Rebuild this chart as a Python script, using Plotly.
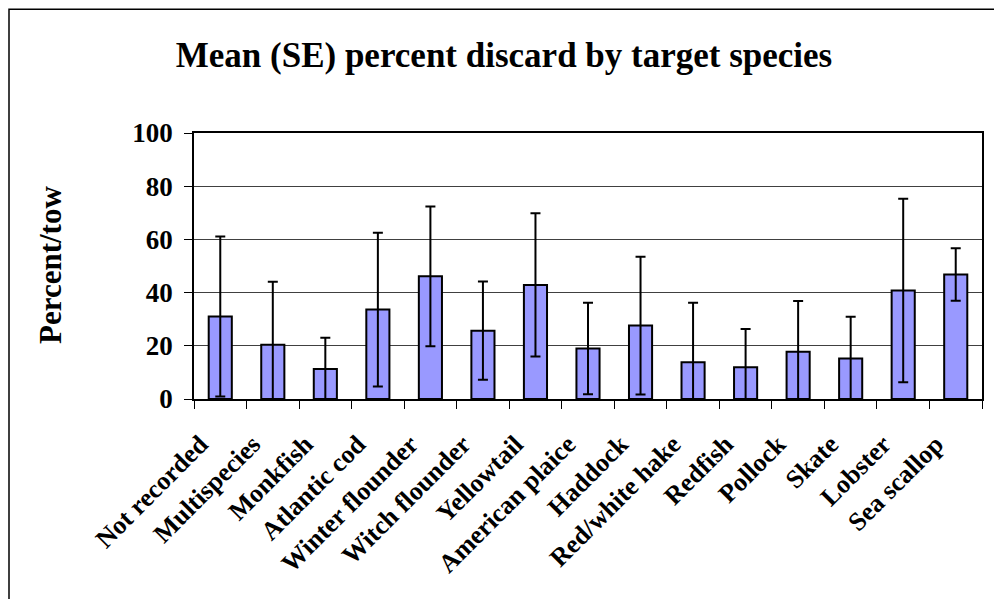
import plotly.graph_objects as go

categories = ["Not recorded", "Multispecies", "Monkfish", "Atlantic cod", "Winter flounder",
              "Witch flounder", "Yellowtail", "American plaice", "Haddock", "Red/white hake",
              "Redfish", "Pollock", "Skate", "Lobster", "Sea scallop"]
mean_discard = [31.0, 20.4, 11.3, 33.6, 46.1, 25.7, 42.9, 19.0, 27.6, 13.8, 11.9, 17.8, 15.2, 40.8, 46.8]
se_discard = [30.1, 23.7, 11.7, 28.9, 26.3, 18.5, 26.9, 17.2, 25.9, 22.4, 14.4, 19.0, 15.7, 34.5, 9.9]
y_ticks = [0, 20, 40, 60, 80, 100]

FONT = "Liberation Serif"
# page is drawn with an 8px offset; compensate
OFF = 8
L, R, T, B = 194 - OFF, 1002 - (982 - OFF), 133 - OFF, 599 - (399 - OFF)
PW, PH = 1002 - L - R, 599 - T - B

fig = go.Figure()
fig.add_trace(go.Bar(
    x=categories, y=mean_discard,
    marker=dict(color="#9999FF", line=dict(color="black", width=2)),
    error_y=dict(type="data", array=se_discard, symmetric=True,
                 color="black", thickness=2, width=5),
    width=0.44,
))

fig.update_layout(
    width=1002, height=599,
    margin=dict(l=L, r=R, t=T, b=B),
    paper_bgcolor="white", plot_bgcolor="white",
    showlegend=False,
    title=dict(text="<b>Mean (SE) percent discard by target species</b>",
               x=(504 - OFF) / 1002, xref="container", xanchor="center",
               y=1 - (55 - OFF) / 599, yref="container", yanchor="middle",
               font=dict(family=FONT, size=35, color="black")),
    font=dict(family=FONT, color="black"),
    xaxis=dict(
        type="category", tickangle=-45, tickson="boundaries",
        ticks="outside", ticklen=8, tickcolor="black", tickwidth=1,
        showline=True, linecolor="black", linewidth=1.5, mirror=True,
        showgrid=False,
        tickfont=dict(family=FONT, size=26, color="black"),
        tickprefix="<b>", ticksuffix="</b>",
        ticklabelstandoff=18, ticklabelshift=-20,
    ),
    yaxis=dict(
        range=[0, 100], tickvals=y_ticks, ticktext=[f"<b>{v}</b>" for v in y_ticks],
        ticks="outside", ticklen=8, tickcolor="black", tickwidth=1,
        showline=True, linecolor="black", linewidth=1.5, mirror=True,
        showgrid=True, gridcolor="#404040", gridwidth=1,
        zeroline=False, ticklabelstandoff=6,
        tickfont=dict(family=FONT, size=27, color="black"),
    ),
    annotations=[dict(
        text="<b>Percent/tow</b>", textangle=-90,
        x=(50 - OFF - L) / PW, xref="paper", xanchor="center",
        y=(399 - 265) / 266, yref="paper", yanchor="middle",
        showarrow=False, font=dict(family=FONT, size=31, color="black"),
    )],
    shapes=[
        dict(type="rect", xref="paper", yref="paper",
             x0=(9 - OFF - L) / PW, x1=(999 - OFF - L) / PW,
             y0=-0.9, y1=(399.3 - 9.5) / PH,
             line=dict(color="black", width=1.5), layer="below"),
    ],
)

fig.write_html("out.html")
